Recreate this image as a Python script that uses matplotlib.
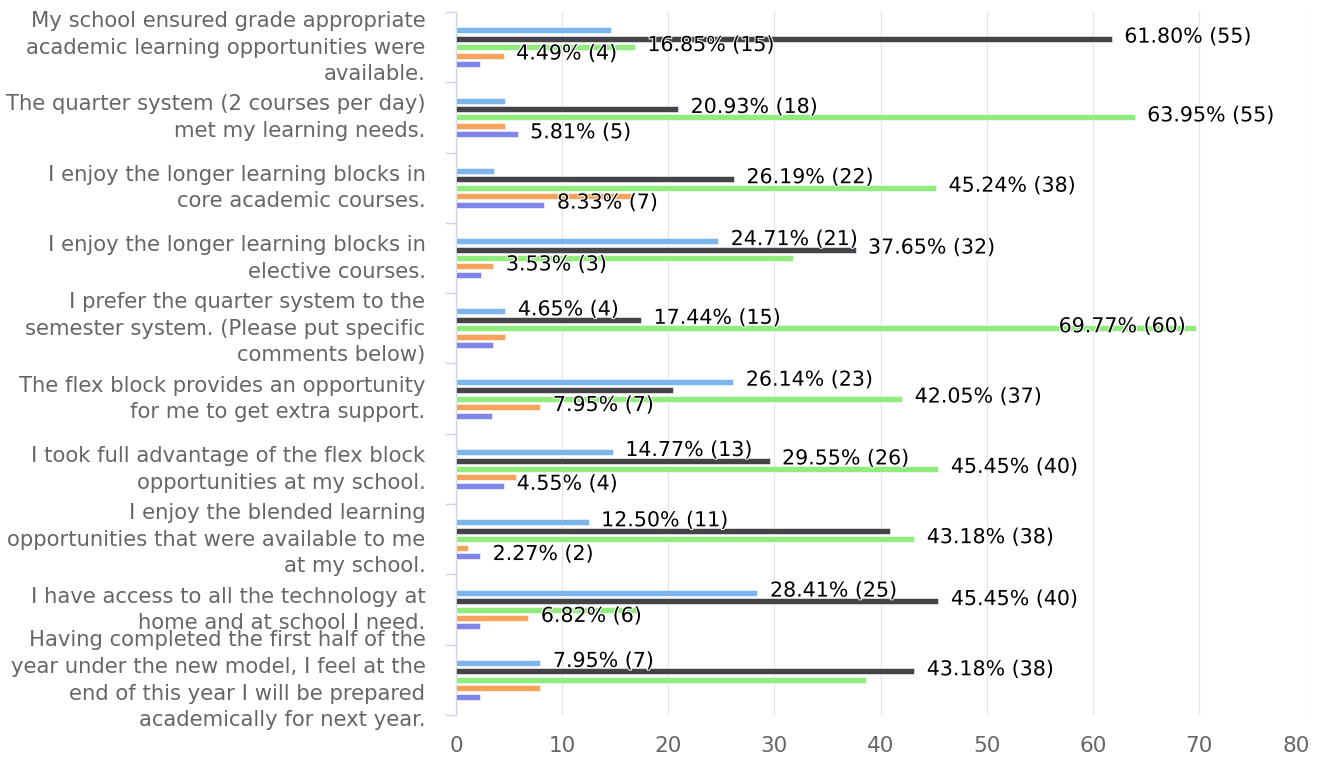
import matplotlib
matplotlib.use("Agg")
import matplotlib.pyplot as plt
import matplotlib.patheffects as pe
from matplotlib.transforms import ScaledTranslation
import numpy as np

categories = [
    "My school ensured grade appropriate\nacademic learning opportunities were\navailable.",
    "The quarter system (2 courses per day)\nmet my learning needs.",
    "I enjoy the longer learning blocks in\ncore academic courses.",
    "I enjoy the longer learning blocks in\nelective courses.",
    "I prefer the quarter system to the\nsemester system. (Please put specific\ncomments below)",
    "The flex block provides an opportunity\nfor me to get extra support.",
    "I took full advantage of the flex block\nopportunities at my school.",
    "I enjoy the blended learning\nopportunities that were available to me\nat my school.",
    "I have access to all the technology at\nhome and at school I need.",
    "Having completed the first half of the\nyear under the new model, I feel at the\nend of this year I will be prepared\nacademically for next year.",
]

# response counts per series (top-to-bottom order within each group)
series_1 = [13, 4, 3, 21, 4, 23, 13, 11, 25, 7]
series_2 = [55, 18, 22, 32, 15, 18, 26, 36, 40, 38]
series_3 = [15, 55, 38, 27, 60, 37, 40, 38, 15, 34]
series_4 = [4, 4, 14, 3, 4, 7, 5, 1, 6, 7]
series_5 = [2, 5, 7, 2, 3, 3, 4, 2, 2, 2]

# which data labels are visible in the reference
shown_1 = [0, 0, 0, 1, 1, 1, 1, 1, 1, 1]
shown_2 = [1, 1, 1, 1, 1, 0, 1, 0, 1, 1]
shown_3 = [1, 1, 1, 0, 1, 1, 1, 1, 0, 0]
shown_4 = [1, 0, 0, 1, 0, 1, 0, 0, 1, 0]
shown_5 = [0, 1, 1, 0, 0, 0, 1, 1, 0, 0]

colors = ["#7cb5ec", "#434348", "#90ed7d", "#f7a35c", "#8085e9"]
x_ticks = [0, 10, 20, 30, 40, 50, 60, 70, 80]

plt.rcParams['font.family'] = ['DejaVu Sans']

series = [series_1, series_2, series_3, series_4, series_5]
shown = [shown_1, shown_2, shown_3, shown_4, shown_5]
counts = np.array(series, dtype=float)
totals = counts.sum(axis=0)
pcts = counts / totals * 100

fig = plt.figure(figsize=(13.21, 7.58), dpi=100)
ax = fig.add_axes([456/1321, (758-715)/758, (1305-456)/1321, (715-12)/758])

n = len(categories)
y = np.arange(n)
step = 0.12
h = 0.085
for k in range(5):
    pos = y + (k - 2) * step
    ax.barh(pos, pcts[k], height=h, color=colors[k], edgecolor="white",
            linewidth=0.4, zorder=3)
    for i in range(n):
        if not shown[k][i]:
            continue
        v = pcts[k][i]
        txt = f"{v:.2f}% ({series[k][i]})"
        if v + 14 > 80:
            ax.annotate(txt, (v, pos[i]), xytext=(-8, 1.5), textcoords="offset points",
                        ha="right", va="center", fontsize=14.8, color="black", zorder=5,
                        path_effects=[pe.withStroke(linewidth=1.5, foreground="white")])
        else:
            ax.annotate(txt, (v, pos[i]), xytext=(9, 1.5), textcoords="offset points",
                        ha="left", va="center", fontsize=14.8, color="black", zorder=5,
                        path_effects=[pe.withStroke(linewidth=1.5, foreground="white")])

ax.set_xlim(0, 80)
ax.set_ylim(n - 0.5, -0.5)
ax.set_xticks(x_ticks)
ax.set_xticklabels([str(t) for t in x_ticks])
ax.tick_params(axis="x", length=0, pad=15, labelsize=15.5, labelcolor="#666666")
ax.grid(axis="x", color="#e6e6e6", linewidth=1, zorder=0)
last = ax.get_xticklabels()[-1]
last.set_transform(last.get_transform() + ScaledTranslation(-9/100, 0, fig.dpi_scale_trans))

ax.set_yticks(np.arange(n + 1) - 0.5)
ax.set_yticklabels([])
ax.tick_params(axis="y", which="major", length=8, color="#ccd6eb", width=1)
ax.set_yticks(y, minor=True)
ax.set_yticklabels(categories, minor=True, fontsize=15.2, color="#666666",
                   linespacing=1.42)
ax.tick_params(axis="y", which="minor", length=0, pad=22)
for lbl in ax.get_yticklabels(minor=True):
    lbl.set_transform(lbl.get_transform() + ScaledTranslation(0, 5/100, fig.dpi_scale_trans))

for s in ["top", "right", "bottom"]:
    ax.spines[s].set_visible(False)
ax.spines["left"].set_color("#ccd6eb")
ax.spines["left"].set_linewidth(1)
ax.set_axisbelow(True)

fig.savefig("out.png", dpi=100)
